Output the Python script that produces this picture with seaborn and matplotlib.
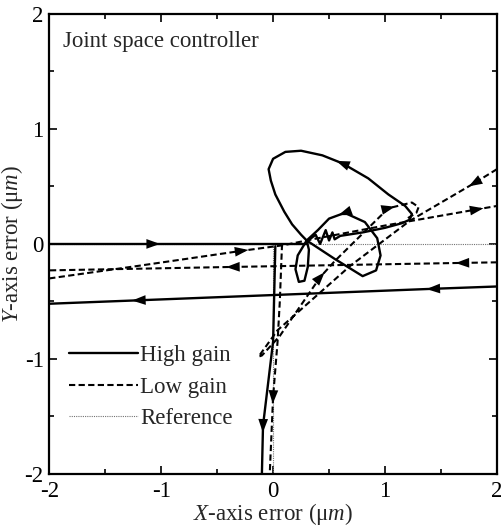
import numpy as np
import pandas as pd
import matplotlib
matplotlib.use("Agg")
import matplotlib.pyplot as plt
from matplotlib.lines import Line2D
import seaborn as sns

# ---- data (micrometres) ----
# high gain (solid) trajectories, in time order
hg_in_x = [-2.0, -1.07, 0.30]
hg_in_y = [0.0, 0.0, 0.0]

hg_loop_x = [0.30, 0.38, 0.42, 0.47, 0.50, 0.53, 0.55, 0.60, 0.80, 1.00, 1.15, 1.22, 1.24, 1.18,
             1.03, 0.85, 0.62, 0.44, 0.25, 0.11, 0.00, -0.04, -0.02, 0.02, 0.10, 0.17, 0.25, 0.30]
hg_loop_y = [0.02, 0.08, 0.00, 0.12, 0.03, 0.10, 0.04, 0.07, 0.10, 0.14, 0.18, 0.21, 0.26, 0.33,
             0.43, 0.57, 0.70, 0.77, 0.81, 0.80, 0.74, 0.65, 0.55, 0.43, 0.28, 0.17, 0.08, 0.03]

hg_small_x = [0.30, 0.55, 0.80, 0.92, 0.96, 0.93, 0.82, 0.64, 0.50, 0.40, 0.30,
              0.22, 0.20, 0.23, 0.28, 0.31, 0.32, 0.30]
hg_small_y = [0.03, -0.13, -0.28, -0.23, -0.10, 0.05, 0.19, 0.27, 0.22, 0.12, 0.03,
              -0.10, -0.22, -0.33, -0.32, -0.20, -0.05, 0.03]

hg_down_x = [0.02, 0.00, -0.09, -0.10]
hg_down_y = [-0.02, -0.85, -1.58, -2.0]

hg_back_x = [2.0, 1.43, -1.20, -2.0]
hg_back_y = [-0.37, -0.39, -0.49, -0.52]

# low gain (dashed) trajectories
lg_in_x = [-2.0, -1.20, -0.28, 0.10, 0.35, 1.00, 1.82, 2.0]
lg_in_y = [-0.30, -0.19, -0.06, -0.01, 0.04, 0.16, 0.30, 0.33]

lg_diag_x = [2.0, 1.80, 1.22, 0.69, 0.04, -0.13, -0.10, 0.06, 0.42, 0.55, 1.03, 1.24, 1.30, 1.28, 1.18]
lg_diag_y = [0.65, 0.53, 0.20, -0.19, -0.75, -0.98, -0.97, -0.80, -0.29, -0.15, 0.31, 0.36, 0.32, 0.27, 0.21]

lg_back_x = [2.0, 1.69, -0.36, -2.0]
lg_back_y = [-0.16, -0.165, -0.20, -0.23]

lg_down_x = [0.08, 0.06, 0.04, 0.00, -0.03]
lg_down_y = [0.0, -0.50, -0.85, -1.33, -2.0]

# reference path (dotted)
ref_h_x = [-2.0, 2.0]
ref_h_y = [0.0, 0.0]
ref_v_x = [0.0, 0.0]
ref_v_y = [0.0, -2.0]

# direction arrows: (path, vertex index) -> arrow at that vertex pointing to the next one
arrow_marks = [("hg_in", 1), ("hg_loop", 16), ("hg_small", 7), ("hg_down", 2),
               ("hg_back", 1), ("hg_back", 2), ("lg_in", 2), ("lg_in", 6),
               ("lg_diag", 1), ("lg_diag", 8), ("lg_diag", 10),
               ("lg_back", 1), ("lg_back", 2), ("lg_down", 3)]

paths = {
    "hg_in": (hg_in_x, hg_in_y, "High gain"),
    "hg_loop": (hg_loop_x, hg_loop_y, "High gain"),
    "hg_small": (hg_small_x, hg_small_y, "High gain"),
    "hg_down": (hg_down_x, hg_down_y, "High gain"),
    "hg_back": (hg_back_x, hg_back_y, "High gain"),
    "lg_in": (lg_in_x, lg_in_y, "Low gain"),
    "lg_diag": (lg_diag_x, lg_diag_y, "Low gain"),
    "lg_back": (lg_back_x, lg_back_y, "Low gain"),
    "lg_down": (lg_down_x, lg_down_y, "Low gain"),
    "ref_h": (ref_h_x, ref_h_y, "Reference"),
    "ref_v": (ref_v_x, ref_v_y, "Reference"),
}

styles = {
    "High gain": dict(color="black", lw=1.7, linestyle="-"),
    "Low gain": dict(color="black", lw=1.5, linestyle=(0, (3, 1.6))),
    "Reference": dict(color="0.45", lw=0.8, linestyle=(0, (1, 1))),
}

FS = 16.5

sns.set_style("ticks")
plt.rcParams["font.family"] = ["Liberation Serif", "DejaVu Serif"]
plt.rcParams["mathtext.fontset"] = "custom"
plt.rcParams["mathtext.rm"] = "Liberation Serif"
plt.rcParams["mathtext.it"] = "Liberation Serif:italic"

fig = plt.figure(figsize=(5.02, 5.32), dpi=100)
ax = fig.add_axes([0.098, 0.109, 0.892, 0.865])

# reference first so the trajectories sit on top
for name in ["ref_h", "ref_v"] + [k for k in paths if not k.startswith("ref")]:
    xs, ys, kind = paths[name]
    df = pd.DataFrame({"x": xs, "y": ys})
    sns.lineplot(data=df, x="x", y="y", sort=False, estimator=None, ax=ax, **styles[kind])

for name, i in arrow_marks:
    xs, ys, kind = paths[name]
    p0 = np.array([xs[i], ys[i]])
    p1 = np.array([xs[i + 1], ys[i + 1]])
    d = (p1 - p0) / np.hypot(*(p1 - p0))
    ax.annotate("", xy=p0 + 0.06 * d, xytext=p0,
                arrowprops=dict(arrowstyle="-|>,head_length=0.7,head_width=0.25",
                                color="black", lw=0, mutation_scale=14,
                                shrinkA=0, shrinkB=0))

ax.set_xlim(-2, 2)
ax.set_ylim(-2, 2)
ax.set_xticks([-2, -1, 0, 1, 2])
ax.set_yticks([-2, -1, 0, 1, 2])
ax.set_xticks(np.arange(-1.5, 2, 1.0), minor=True)
ax.set_yticks(np.arange(-1.5, 2, 1.0), minor=True)
ax.set_xticklabels(["-2", "-1", "0", "1", "2"])
ax.set_yticklabels(["-2", "-1", "0", "1", "2"])
ax.tick_params(which="both", direction="in", top=True, right=True, labelsize=FS,
               width=1.2, colors="black")
ax.tick_params(which="major", length=6)
ax.tick_params(axis="x", which="major", pad=5)
ax.tick_params(axis="y", which="major", pad=4)
ax.tick_params(which="minor", length=3.5)
for s in ax.spines.values():
    s.set_linewidth(1.6)
    s.set_color("black")

ax.set_xlabel("$X$-axis error (μ$m$)", fontsize=FS, labelpad=-1)
ax.set_ylabel("$Y$-axis error (μ$m$)", fontsize=FS, labelpad=0)
ax.text(0.031, 0.94, "Joint space controller", transform=ax.transAxes,
        fontsize=FS, ha="left", va="center")

handles = [Line2D([], [], **styles[k]) for k in ["High gain", "Low gain", "Reference"]]
ax.legend(handles, ["High gain", "Low gain", "Reference"], loc="upper left",
          bbox_to_anchor=(0.045, 0.280), frameon=False, fontsize=FS,
          handlelength=3.0, handletextpad=0.1, labelspacing=0.45, borderpad=0,
          borderaxespad=0)

fig.savefig("out.png", dpi=100)
